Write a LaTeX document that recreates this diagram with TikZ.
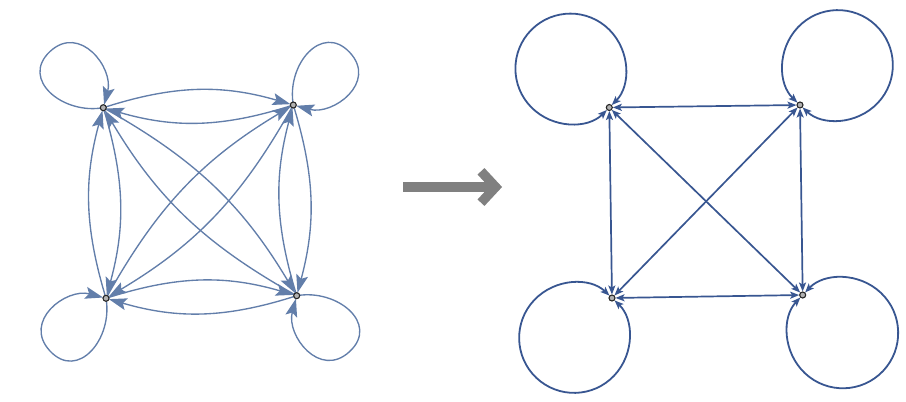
\documentclass[tikz,border=0pt]{standalone}
\usetikzlibrary{arrows.meta}
\definecolor{edgeL}{RGB}{98,126,170}
\definecolor{edgeR}{RGB}{56,86,145}
\definecolor{bigarrow}{RGB}{128,128,128}
\tikzset{
  vtx/.style={circle, draw=black!85, fill=black!30, line width=1.1pt, minimum size=6pt, inner sep=0pt},
  ledge/.style={draw=edgeL, line width=1.35pt, -{Stealth[length=18pt,width=12pt,inset=3.5pt]}, shorten >=3pt},
  redge/.style={draw=edgeR, line width=1.7pt, {Stealth[length=9pt,width=7pt,inset=2pt]}-{Stealth[length=9pt,width=7pt,inset=2pt]}, shorten >=3.5pt, shorten <=3.5pt},
  rloop/.style={draw=edgeR, line width=1.8pt, {Stealth[length=9pt,width=7pt,inset=2pt]}-{Stealth[length=9pt,width=7pt,inset=2pt]}, shorten >=3.5pt, shorten <=3.5pt},
}
\begin{document}
\begin{tikzpicture}[x=1pt,y=1pt]
\useasboundingbox (0,0) rectangle (906,402);
% left graph vertices
\coordinate (A) at (103.3,294.3);
\coordinate (B) at (293.3,297);
\coordinate (C) at (106,103.7);
\coordinate (D) at (296.7,106.3);
% loop apexes
\coordinate (PA) at (50,350.5);
\coordinate (PB) at (349.8,349.5);
\coordinate (PD) at (349.7,50.5);
\coordinate (PC) at (50,51);
% right graph vertices
\coordinate (E) at (609.3,294.5);
\coordinate (F) at (800,297);
\coordinate (G) at (612,104);
\coordinate (H) at (802.7,107);
% left loops
\draw[ledge] (A) .. controls +(190:41pt) and +(-137:41pt) .. (PA)
                 .. controls +(43:41pt) and +(75:41pt) .. (A);
\draw[ledge] (B) .. controls +(100:41pt) and +(133:41pt) .. (PB)
                 .. controls +(-47:41pt) and +(-15:41pt) .. (B);
\draw[ledge] (D) .. controls +(10:41pt) and +(43:41pt) .. (PD)
                 .. controls +(-137:41pt) and +(-105:41pt) .. (D);
\draw[ledge] (C) .. controls +(-80:41pt) and +(-47:41pt) .. (PC)
                 .. controls +(133:41pt) and +(165:41pt) .. (C);
% left edges
\draw[ledge] (A) to[bend left=17] (B);
\draw[ledge] (B) to[bend left=17] (A);
\draw[ledge] (C) to[bend left=17] (D);
\draw[ledge] (D) to[bend left=17] (C);
\draw[ledge] (A) to[bend left=16] (C);
\draw[ledge] (C) to[bend left=16] (A);
\draw[ledge] (B) to[bend left=16] (D);
\draw[ledge] (D) to[bend left=16] (B);
\draw[ledge] (A) to[bend left=15] (D);
\draw[ledge] (D) to[bend left=15] (A);
\draw[ledge] (B) to[bend left=15] (C);
\draw[ledge] (C) to[bend left=15] (B);
% big arrow
\coordinate (S) at (403,215);
\coordinate (T) at (496,215);
\coordinate (V) at (495.6,215);
\draw[bigarrow, line width=9.5pt] (S) -- (T);
\draw[bigarrow, line width=9.5pt, miter limit=10] (481,230.7) -- (V) -- (481,199.3);
% right loops
\draw[rloop] (E) arc[start angle=-45, delta angle=360, radius=55pt];
\draw[rloop] (F) arc[start angle=226.5, delta angle=360, radius=55pt];
\draw[rloop] (G) arc[start angle=46.5, delta angle=360, radius=55pt];
\draw[rloop] (H) arc[start angle=136.6, delta angle=360, radius=55.3pt];
% right edges
\draw[redge] (E) -- (F);
\draw[redge] (G) -- (H);
\draw[redge] (E) -- (G);
\draw[redge] (F) -- (H);
\draw[redge] (E) -- (H);
\draw[redge] (F) -- (G);
% vertex markers
\foreach \v in {A,B,C,D,E,F,G,H} \node[vtx] at (\v) {};
\end{tikzpicture}
\end{document}
